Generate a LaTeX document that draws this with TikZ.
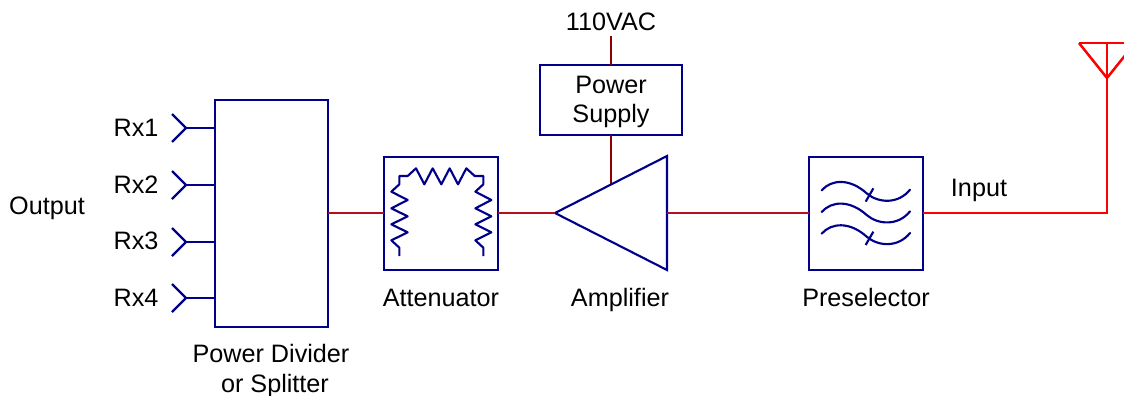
\documentclass[tikz,border=0pt]{standalone}
\usepackage{fontspec}
\setmainfont{Liberation Sans}
\definecolor{navyline}{HTML}{00008B}
\definecolor{darkred}{HTML}{B01020}
\definecolor{maroonred}{HTML}{8B0000}
\definecolor{brightred}{HTML}{FF0000}
\tikzset{
  blue line/.style={draw=navyline,line width=1.6pt,line join=miter},
  wire/.style={draw=darkred,line width=1.8pt},
  mains wire/.style={draw=maroonred,line width=1.85pt},
  hot wire/.style={draw=brightred,line width=1.85pt,line join=miter},
  box/.style={blue line,rectangle,inner sep=0pt,outer sep=0pt,anchor=north west},
  label/.style={inner sep=0pt,anchor=base,font=\fontsize{18.9}{20}\selectfont,text=black},
  stub/.style={draw=navyline,line width=1.7pt}
}
\begin{document}
\begin{tikzpicture}[x=0.75pt,y=-0.75pt]
\useasboundingbox (0,0) rectangle (1124,396);
% boxes
\node[box,minimum width=84.75pt,minimum height=170.25pt] (divider) at (215,100) {};
\node[box,minimum width=85.5pt,minimum height=84.75pt] (atten) at (384,157) {};
\node[box,minimum width=85.5pt,minimum height=84.75pt] (presel) at (809,157) {};
\node[box,minimum width=106.5pt,minimum height=52.5pt] (psu) at (540,65) {};
% amplifier
\coordinate (amptip) at (555,213);
\coordinate (amptop) at (667,156);
\coordinate (ampbot) at (667,270);
\coordinate (ampout) at (667,213);
\coordinate (amppwr) at (611,184.5);
% mains
\coordinate (mains) at (611,36);
\draw[mains wire] (mains) -- (mains |- psu.north);
\draw[mains wire] (mains |- psu.south) -- (amppwr);
\draw[blue line] (amptip) -- (amptop) -- (ampbot) -- cycle;
% signal chain
\coordinate (divport) at (divider.east |- 0,213);
\coordinate (attL) at (atten.west |- 0,213);
\coordinate (attR) at (atten.east |- 0,213);
\coordinate (preL) at (presel.west |- 0,213);
\coordinate (preR) at (presel.east |- 0,213);
\draw[wire] (divport) -- (attL);
\draw[wire] (attR) -- (amptip);
\draw[wire] (ampout) -- (preL);
% antenna
\coordinate (antjoin) at (1037,213);
\coordinate (antbase) at (1107,213);
\coordinate (anttip) at (1107,78);
\coordinate (anttop) at (1107,43);
\coordinate (antL) at (1079,43);
\coordinate (antR) at (1135,43);
\draw[hot wire,line width=2.2pt] (preR) -- (antjoin);
\draw[hot wire] (antjoin) -- (antbase) -- (anttop);
\draw[hot wire] (antL) -- (antR);
\draw[hot wire] (antL) -- (anttip) -- (antR);
% receivers
\foreach \n/\y in {1/128,2/185,3/242,4/298}{
  \coordinate (rx\n) at (186,\y);
  \coordinate (rx\n u) at (172,\y-14);
  \coordinate (rx\n d) at (172,\y+14);
  \coordinate (rx\n p) at (divider.west |- 0,\y);
  \draw[stub] (rx\n u) -- (rx\n) -- (rx\n d);
  \draw[stub] (rx\n) -- (rx\n p);
}
% resistors
\begin{scope}[shift={(370,145)},x=0.25pt,y=-0.25pt]
\draw[blue line,line join=round] (88,333)--(88,308)--(64,286)--(113,262)--(64,238)--(113,214)--(64,190)--(113,165)--(64,140)--(88,118)--(88,93)--(113,93)--(138,70)--(163,118)--(188,70)--(214,118)--(239,70)--(264,118)--(289,70)--(314,93)--(340,93)--(340,118)--(316,140)--(364,165)--(316,190)--(364,214)--(316,238)--(364,262)--(316,286)--(340,308)--(340,333);
\end{scope}
% filter
\begin{scope}[shift={(800,145)},x=0.25pt,y=-0.25pt]
\foreach \d in {0,65,130}{
  \draw[blue line,line cap=round] (65,136+\d) .. controls (95,102+\d) and (150,100+\d) .. (200,145+\d) .. controls (235,175+\d) and (295,178+\d) .. (330,134+\d);
}
\draw[blue line] (197,170)--(220,130);
\draw[blue line] (197,300)--(220,260);
\end{scope}
% labels
\node[label] (lrx1) at (136,136) {Rx1};
\node[label] (lrx2) at (136,193) {Rx2};
\node[label] (lrx3) at (136,249) {Rx3};
\node[label] (lrx4) at (136,306) {Rx4};
\node[label] (lout) at (47,214) {Output};
\node[label] (ldiv) at (271,362) {Power Divider};
\node[label] (ldiv2) at (275,392) {or Splitter};
\node[label] (latt) at (441,306) {Attenuator};
\node[label] (lamp) at (620,306) {Amplifier};
\node[label] (lpre) at (866,306) {Preselector};
\node[label] (lin) at (979,196) {Input};
\node[label] (lvac) at (611,30) {110VAC};
\node[label] (lps1) at (611,93) {Power};
\node[label] (lps2) at (611,122) {Supply};
\end{tikzpicture}
\end{document}
